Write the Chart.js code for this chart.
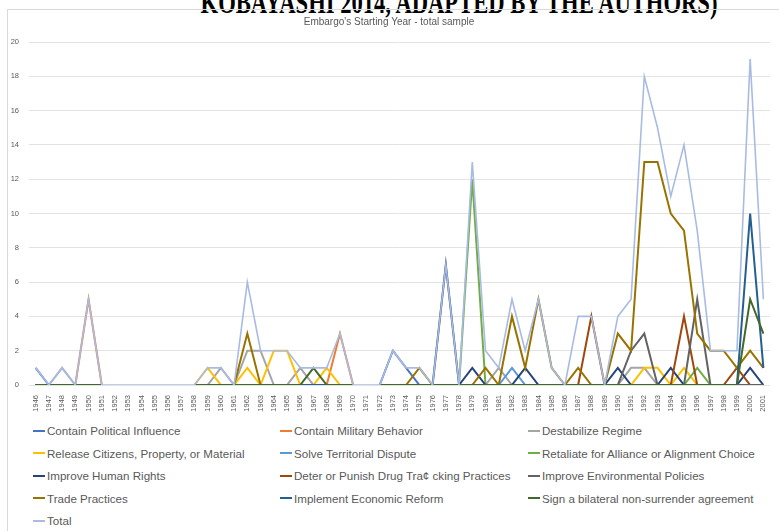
<!DOCTYPE html>
<html>
<head>
<meta charset="utf-8">
<script src="https://cdn.jsdelivr.net/npm/chart.js@4.4.1/dist/chart.umd.min.js"></script>
<style>
  body { margin: 0; width: 779px; height: 531px; overflow: hidden; background: #fff; position: relative; font-family: "Liberation Sans", Arial, sans-serif; }
  #heading { position: absolute; left: 0; top: -5px; width: 918px; text-align: center; font: bold 22.6px/22.6px "Liberation Serif", "Times New Roman", serif; color: #000; white-space: nowrap; transform: scale(1, 1.35); transform-origin: 50% 18.9px; }
  #frame { position: absolute; left: 7px; top: 9px; width: 800px; height: 560px; border: 1px solid #d9d9d9; }
  #wrap { position: absolute; left: 8px; top: 10px; width: 767px; height: 402px; }
  .item { position: absolute; display: flex; align-items: center; font-size: 11.6px; color: #595959; white-space: nowrap; }
  .item i { display: inline-block; width: 12px; height: 2px; margin-right: 2px; }
</style>
</head>
<body>
<div id="heading">KOBAYASHI 2014, ADAPTED BY THE AUTHORS)</div>
<div id="frame"></div>
<div id="wrap"><canvas id="myChart"></canvas></div>
<div id="legend"></div>
<script>
var years = [
  "1946", "1947", "1948", "1949", "1950", "1951", "1952", "1953", "1954", "1955",
  "1956", "1957", "1958", "1959", "1960", "1961", "1962", "1963", "1964", "1965",
  "1966", "1967", "1968", "1969", "1970", "1971", "1972", "1973", "1974", "1975",
  "1976", "1977", "1978", "1979", "1980", "1981", "1982", "1983", "1984", "1985",
  "1986", "1987", "1988", "1989", "1990", "1991", "1992", "1993", "1994", "1995",
  "1996", "1997", "1998", "1999", "2000", "2001"
];

// rows: 1946-1957 | 1958-1971 | 1972-1981 | 1982-1991 | 1992-2001
var containPolitical = [
  1, 0, 0, 0, 0, 0, null, null, null, null, null, null,
  0, 0, 0, 0, 0, 0, 0, 0, 0, 0, 0, 0, 0, null,
  0, 2, 1, 0, 0, 0, 0, 0, 0, 0,
  0, 0, 0, 0, 0, 0, 0, 0, 0, 0,
  0, 0, 0, 0, 0, 0, 0, 0, 0, 0
];
var containMilitary = [
  0, 0, 0, 0, 5, 0, null, null, null, null, null, null,
  0, 0, 0, 0, 0, 0, 0, 0, 0, 0, 0, 3, 0, null,
  0, 0, 0, 0, 0, 0, 0, 0, 0, 0,
  0, 0, 0, 0, 0, 0, 0, 0, 0, 0,
  0, 0, 0, 0, 0, 0, 0, 0, 0, 0
];
var destabilize = [
  0, 0, 1, 0, 0, 0, null, null, null, null, null, null,
  0, 0, 1, 0, 2, 2, 0, 0, 1, 0, 0, 0, 0, null,
  0, 0, 0, 0, 0, 0, 0, 0, 0, 1,
  0, 0, 0, 0, 0, 0, 0, 0, 0, 1,
  1, 0, 0, 0, 0, 0, 0, 0, 0, 0
];
var releaseCitizens = [
  0, 0, 0, 0, 0, 0, null, null, null, null, null, null,
  0, 1, 0, 0, 1, 0, 2, 2, 0, 0, 1, 0, 0, null,
  0, 0, 0, 0, 0, 0, 0, 0, 0, 0,
  0, 0, 0, 0, 0, 0, 0, 0, 0, 0,
  1, 1, 0, 1, 0, 0, 0, 0, 0, 0
];
var territorial = [
  0, 0, 0, 0, 0, 0, null, null, null, null, null, null,
  0, 0, 0, 0, 0, 0, 0, 0, 0, 0, 0, 0, 0, null,
  0, 0, 0, 0, 0, 0, 0, 0, 0, 0,
  1, 0, 0, 0, 0, 0, 0, 0, 0, 0,
  0, 0, 0, 0, 0, 0, 0, 0, 0, 0
];
var retaliate = [
  0, 0, 0, 0, 0, 0, null, null, null, null, null, null,
  0, 0, 0, 0, 0, 0, 0, 0, 0, 0, 0, 0, 0, null,
  0, 0, 0, 0, 0, 0, 0, 12, 0, 0,
  0, 0, 0, 0, 0, 0, 0, 0, 0, 0,
  0, 0, 0, 0, 1, 0, 0, 0, 0, 0
];
var humanRights = [
  0, 0, 0, 0, 0, 0, null, null, null, null, null, null,
  0, 0, 0, 0, 0, 0, 0, 0, 0, 0, 0, 0, 0, null,
  0, 0, 0, 0, 0, 7, 0, 1, 0, 0,
  0, 1, 0, 0, 0, 0, 0, 0, 1, 0,
  0, 0, 1, 0, 0, 0, 0, 0, 1, 0
];
var drugTrafficking = [
  0, 0, 0, 0, 0, 0, null, null, null, null, null, null,
  0, 0, 0, 0, 0, 0, 0, 0, 0, 0, 0, 0, 0, null,
  0, 0, 0, 0, 0, 0, 0, 0, 0, 0,
  0, 0, 0, 0, 0, 0, 4, 0, 0, 0,
  0, 0, 0, 4, 0, 0, 0, 1, 0, 0
];
var environment = [
  0, 0, 0, 0, 0, 0, null, null, null, null, null, null,
  0, 0, 0, 0, 0, 0, 0, 0, 0, 0, 0, 0, 0, null,
  0, 0, 0, 0, 0, 0, 0, 0, 0, 0,
  0, 0, 0, 0, 0, 0, 0, 0, 0, 2,
  3, 0, 0, 0, 5, 0, 0, 0, 0, 0
];
var trade = [
  0, 0, 0, 0, 0, 0, null, null, null, null, null, null,
  0, 0, 0, 0, 3, 0, 0, 0, 0, 0, 0, 0, 0, null,
  0, 0, 0, 1, 0, 0, 0, 0, 1, 0,
  4, 1, 5, 1, 0, 1, 0, 0, 3, 2,
  13, 13, 10, 9, 3, 2, 2, 1, 2, 1
];
var economicReform = [
  0, 0, 0, 0, 0, 0, null, null, null, null, null, null,
  0, 0, 0, 0, 0, 0, 0, 0, 0, 0, 0, 0, 0, null,
  0, 0, 0, 0, 0, 0, 0, 0, 0, 0,
  0, 0, 0, 0, 0, 0, 0, 0, 0, 0,
  0, 0, 0, 0, 0, 0, 0, 0, 10, 1
];
var nonSurrender = [
  0, 0, 0, 0, 0, 0, null, null, null, null, null, null,
  0, 0, 0, 0, 0, 0, 0, 0, 0, 1, 0, 0, 0, null,
  0, 0, 0, 0, 0, 0, 0, 0, 0, 0,
  0, 0, 0, 0, 0, 0, 0, 0, 0, 0,
  0, 0, 0, 0, 0, 0, 0, 0, 5, 3
];
var total = [
  1, 0, 1, 0, 5, 0, 0, 0, 0, 0, 0, 0,
  0, 1, 1, 0, 6, 2, 2, 2, 1, 1, 1, 3, 0, 0,
  0, 2, 1, 1, 0, 7, 0, 13, 2, 1,
  5, 2, 5, 1, 0, 4, 4, 0, 4, 5,
  18, 15, 11, 14, 9, 2, 2, 2, 19, 5
];

var series = [
  ["Contain Political Influence", containPolitical, "#4472c4"],
  ["Contain Military Behavior", containMilitary, "#ed7d31"],
  ["Destabilize Regime", destabilize, "#a5a5a5"],
  ["Release Citizens, Property, or Material", releaseCitizens, "#ffc000"],
  ["Solve Territorial Dispute", territorial, "#5b9bd5"],
  ["Retaliate for Alliance or Alignment Choice", retaliate, "#70ad47"],
  ["Improve Human Rights", humanRights, "#264478"],
  ["Deter or Punish Drug Tra\u00a2 cking Practices", drugTrafficking, "#9e480e"],
  ["Improve Environmental Policies", environment, "#636363"],
  ["Trade Practices", trade, "#997300"],
  ["Implement Economic Reform", economicReform, "#255e91"],
  ["Sign a bilateral non-surrender agreement", nonSurrender, "#43682b"],
  ["Total", total, "#a9bbe3"]
];

var datasets = series.map(function (s, i) {
  return {
    label: s[0],
    data: s[1],
    borderColor: s[2],
    backgroundColor: s[2],
    borderWidth: s[0] == "Total" ? 1.6 : 2,
    pointRadius: 0,
    tension: 0,
    order: series.length - i,
  };
});

var ctx = document.getElementById("myChart");
var myChart = new Chart(ctx, {
  type: "line",
  data: { labels: years, datasets: datasets },
  options: {
    responsive: true,
    maintainAspectRatio: false,
    animation: false,
    layout: { padding: { top: 0, right: 5, left: 0, bottom: 0 } },
    plugins: {
      legend: { display: false },
      tooltip: { enabled: false },
      title: {
        display: true,
        text: "Embargo's Starting Year - total sample",
        color: "#595959",
        font: { size: 10, weight: "normal", family: "'Liberation Sans', Arial, sans-serif" },
        padding: { top: 6, bottom: 14 },
      },
    },
    scales: {
      x: {
        offset: true,
        grid: { display: false },
        border: { display: false },
        ticks: {
          autoSkip: false,
          minRotation: 90,
          maxRotation: 90,
          color: "#595959",
          font: { size: 7.5, family: "'Liberation Sans', Arial, sans-serif" },
          padding: 2,
        },
        afterFit: function (s) { s.height = 27; },
      },
      y: {
        min: 0,
        max: 20,
        grid: { color: "#e3e3e3", drawTicks: false },
        border: { display: false },
        ticks: {
          stepSize: 2,
          color: "#595959",
          font: { size: 7.5, family: "'Liberation Sans', Arial, sans-serif" },
          padding: 10,
        },
        afterFit: function (s) { s.width = 21; },
      },
    },
  },
});

// legend in three columns like the original
var legend = document.getElementById("legend");
var colX = [33, 280, 528];
series.forEach(function (s, i) {
  var div = document.createElement("div");
  div.className = "item";
  div.style.left = colX[i % 3] + "px";
  div.style.top = (424 + Math.floor(i / 3) * 22.6) + "px";
  div.innerHTML = '<i style="background:' + s[2] + '"></i>';
  div.appendChild(document.createTextNode(s[0]));
  legend.appendChild(div);
});
</script>
</body>
</html>
